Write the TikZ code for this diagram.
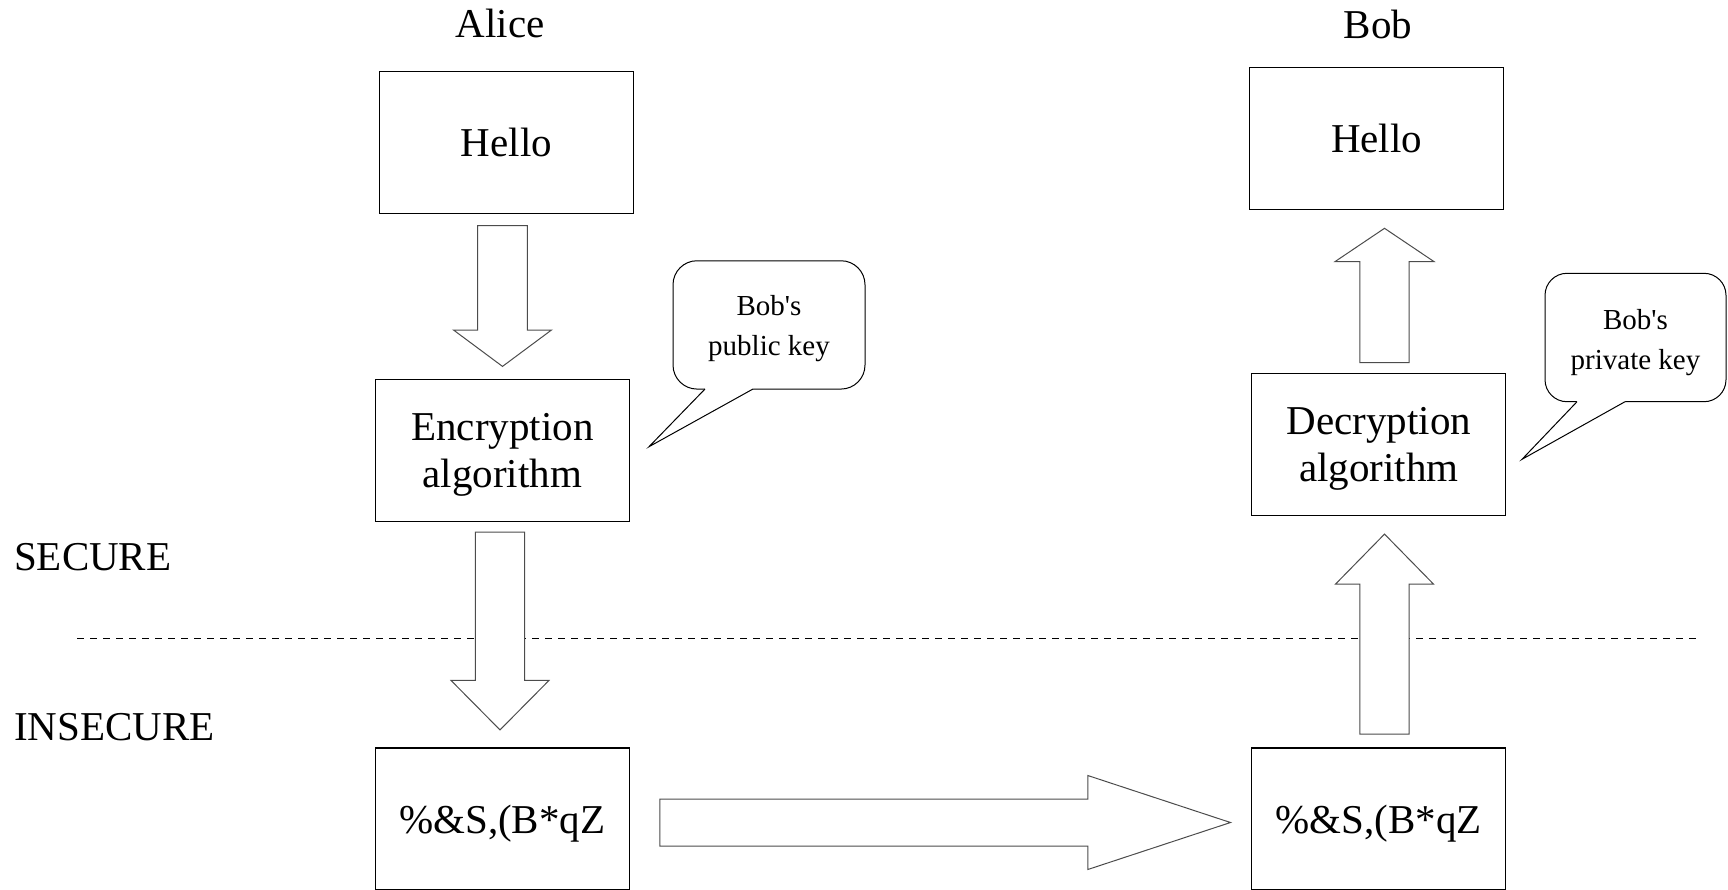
\documentclass[tikz,border=0pt]{standalone}
\usepackage{fontspec}
\setmainfont{Liberation Serif}
\usetikzlibrary{calc}

\newcommand\bigtext{\fontsize{41}{46.5}\selectfont}
\newcommand\smalltext{\fontsize{29}{40}\selectfont}
% raises the first line of a stacked label so the block sits lower in its frame
\newcommand\firstline[1]{\rule{0pt}{#1}}

\tikzset{
  box/.style={draw=black, line width=1.2pt, minimum width=254pt, minimum height=142pt,
    inner sep=0pt, font=\bigtext, align=center},
  oneline/.style={text height=28pt, text depth=0pt},
  caption/.style={inner sep=0pt, font=\bigtext},
  bubble/.style={draw=black, line width=1pt, rounded corners=24pt, inner sep=0pt,
    font=\smalltext, align=center},
  blockarrow/.style={draw=black!70, line width=1pt, fill=white, line join=miter},
  boundary/.style={draw=black, line width=1pt, dash pattern=on 7pt off 6pt},
}

% block arrow: tail, tip, head length, shaft half width, head half width
\newcommand\blockarr[5]{%
  \coordinate (ba-base) at ($(#2)!#3!(#1)$);
  \draw[blockarrow] ($(#1)!#4!90:(#2)$) -- ($(ba-base)!#4!90:(#2)$)
    -- ($(ba-base)!#5!90:(#2)$) -- (#2) -- ($(ba-base)!#5!-90:(#2)$)
    -- ($(ba-base)!#4!-90:(#2)$) -- ($(#1)!#4!-90:(#2)$) -- cycle;
}

\begin{document}
\begin{tikzpicture}[x=1pt, y=-1pt]
\useasboundingbox (0,0) rectangle (1728,889);

% parties
\node[caption, anchor=base] (alice) at (500,37.3) {Alice};
\node[caption, anchor=base] (bob) at (1378,38) {Bob};

% zone labels and boundary
\node[caption, anchor=base west] (secure) at (14,570) {SECURE};
\node[caption, anchor=base west] (insecure) at (14,740) {INSECURE};
\coordinate (bound-l) at (77,638.5);
\coordinate (bound-r) at (1697,638.5);
\draw[boundary] (bound-l) -- (bound-r);

% message boxes
\node[box, oneline] (hello1) at (506.5,142.2) {Hello};
\node[box] (enc) at (502.4,450.2) {\firstline{36.8pt}Encryption\\algorithm};
\node[box, oneline] (cipher1) at (502.3,819) {\%\&S,(B*qZ};
\node[box, oneline] (hello2) at (1376.6,138.2) {Hello};
\node[box] (dec) at (1378.8,444.2) {\firstline{36.8pt}Decryption\\algorithm};
\node[box, oneline] (cipher2) at (1378.8,819) {\%\&S,(B*qZ};

% key bubbles
\node[bubble, minimum width=192pt, minimum height=128.3pt] (pubkey) at (769,324.9)
  {\firstline{27.8pt}Bob\textquotesingle s\\public key};
\coordinate (pubkey-l) at (705,389);
\coordinate (pubkey-r) at (753,389);
\coordinate (pubkey-tip) at (649,446.7);
\fill[white] (pubkey-l) -- (pubkey-tip) -- (pubkey-r) -- ($(pubkey-r)+(0,-1.2)$)
  -- ($(pubkey-l)+(0,-1.2)$) -- cycle;
\draw[line width=1pt] (pubkey-l) -- (pubkey-tip) -- (pubkey-r);

\node[bubble, rounded corners=22pt, minimum width=181pt, minimum height=128.4pt] (privkey)
  at (1635.5,337.5) {\firstline{29.4pt}Bob\textquotesingle s\\private key};
\coordinate (privkey-l) at (1577,401.7);
\coordinate (privkey-r) at (1625,401.7);
\coordinate (privkey-tip) at (1522,459.3);
\fill[white] (privkey-l) -- (privkey-tip) -- (privkey-r) -- ($(privkey-r)+(0,-1.2)$)
  -- ($(privkey-l)+(0,-1.2)$) -- cycle;
\draw[line width=1pt] (privkey-l) -- (privkey-tip) -- (privkey-r);

% flow arrows
\coordinate (a1-tail) at ($(hello1.south)+(-4,11.8)$);
\coordinate (a1-tip) at ($(enc.north)+(0.1,-12.2)$);
\blockarr{a1-tail}{a1-tip}{36.4pt}{24.8pt}{49pt}

\coordinate (a2-tail) at ($(enc.south)+(-2.4,10.3)$);
\coordinate (a2-tip) at ($(cipher1.north)+(-2.3,-17.5)$);
\blockarr{a2-tail}{a2-tip}{49.5pt}{24.7pt}{49pt}

\coordinate (a3-tail) at ($(cipher1.east)+(30,3.5)$);
\coordinate (a3-tip) at ($(cipher2.west)+(-20.7,3.5)$);
\blockarr{a3-tail}{a3-tip}{142.7pt}{23.5pt}{47pt}

\coordinate (a4-tail) at ($(cipher2.north)+(5.7,-13.3)$);
\coordinate (a4-tip) at ($(dec.south)+(5.7,18.3)$);
\blockarr{a4-tail}{a4-tip}{50pt}{24.7pt}{49pt}

\coordinate (a5-tail) at ($(dec.north)+(5.7,-10)$);
\coordinate (a5-tip) at ($(hello2.south)+(7.9,18.5)$);
\blockarr{a5-tail}{a5-tip}{33.3pt}{24.7pt}{49.5pt}
\end{tikzpicture}
\end{document}
